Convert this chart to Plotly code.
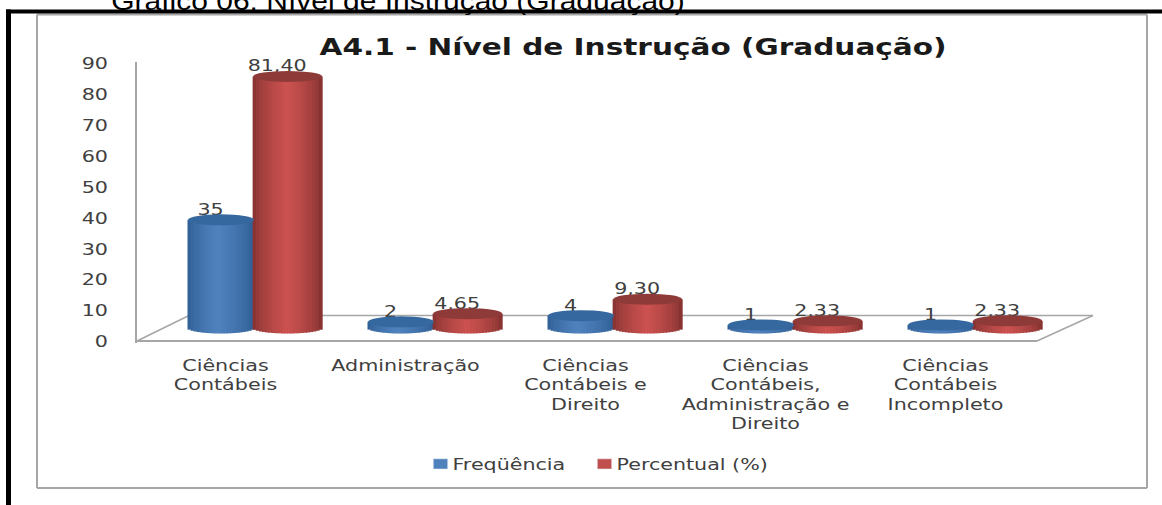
import math
import plotly.graph_objects as go

categories = ["Ciências<br>Contábeis", "Administração", "Ciências<br>Contábeis e<br>Direito",
              "Ciências<br>Contábeis,<br>Administração e<br>Direito", "Ciências<br>Contábeis<br>Incompleto"]
frequencia = [35, 2, 4, 1, 1]
percentual = [81.40, 4.65, 9.30, 2.33, 2.33]
y_ticks = [0, 10, 20, 30, 40, 50, 60, 70, 80, 90]

W, H = 1162, 505
FONT = "DejaVu Sans"
TXT = "#404040"
GRAY = "#a6a6a6"


def px(x):
    return x / W


def py(y):
    return 1 - y / H


PX_PER_X = 180.0
X_ZERO = 254.0  # pixel of category 0 centre
PX_PER_Y = 3.09
Y_LEFT, Y_RIGHT, Y_BOT, Y_TOP = 137, 1093, 343, 62
BASE_PX = 328
ELL_H = 5.5 / PX_PER_Y
N = 22


def mix(c1, c2, f):
    return "rgb(%d,%d,%d)" % tuple(round(a + (b - a) * f) for a, b in zip(c1, c2))


def cylinder(values, name, offset, width, dark, light, top, peak):
    xs, ys, bases, cols, widths = [], [], [], [], []
    for i, v in enumerate(values):
        for k in range(N):
            t = (k + 0.5) / N * 2 - 1
            b = -ELL_H * math.sqrt(1 - t * t)
            xs.append(i + offset + t * width / 2)
            ys.append(v - b)
            bases.append(b)
            widths.append(width / N * 1.35)
            f = max(0.0, 1 - abs(t - peak) / (1 - peak * (1 if t > peak else -1))) ** 0.6
            cols.append(mix(dark, light, f))
    bar = go.Bar(x=xs, y=ys, base=bases, width=widths, marker=dict(color=cols, line=dict(width=0)),
                 yaxis="y2", showlegend=False, hoverinfo="skip", name=name)
    ellipses = [dict(type="circle", xref="x", yref="y2", layer="above",
                     x0=i + offset - width / 2, x1=i + offset + width / 2,
                     y0=v - ELL_H, y1=v + ELL_H, fillcolor=top, line=dict(width=0))
                for i, v in enumerate(values)]
    return bar, ellipses


BLUE_OFF, RED_OFF = -0.183, 0.187
BLUE_W, RED_W = 0.367, 0.383
bar_b, ell_b = cylinder(frequencia, "Freqüência", BLUE_OFF, BLUE_W, (44, 90, 143), (80, 130, 190), "#35689e", -0.1)
bar_r, ell_r = cylinder(percentual, "Percentual (%)", RED_OFF, RED_W, (125, 47, 46), (204, 82, 80), "#8e3a38", 0.0)

LABEL_SHIFT = -10.5 / PX_PER_X
LABEL_UP = 9 / PX_PER_Y


def labels(values, offset, fmt):
    return go.Scatter(x=[i + offset + LABEL_SHIFT for i in range(len(values))],
                      y=[v + LABEL_UP for v in values], yaxis="y2", mode="text",
                      text=[fmt(v) for v in values], textposition="middle center", cliponaxis=False,
                      textfont=dict(family=FONT, size=16, color=TXT), showlegend=False, hoverinfo="skip")


fig = go.Figure()
fig.add_trace(go.Bar(x=[None], y=[None], name="Freqüência", marker=dict(color="#4f81bd")))
fig.add_trace(go.Bar(x=[None], y=[None], name="Percentual (%)", marker=dict(color="#c0504d")))
fig.add_trace(bar_b)
fig.add_trace(bar_r)
fig.add_trace(labels(frequencia, BLUE_OFF, lambda v: str(v)))
fig.add_trace(labels(percentual, RED_OFF, lambda v: f"{v:.2f}".replace(".", ",")))


def line(x0, y0, x1, y1, color=GRAY, width=2, layer="below"):
    return dict(type="line", xref="paper", yref="paper", x0=px(x0), y0=py(y0), x1=px(x1), y1=py(y1),
                line=dict(color=color, width=width), layer=layer)


shapes = [
    line(137, 341, 1037, 341), line(137, 341, 188, 316, width=1.5), line(188, 315.5, 1093, 315.5, width=1.5),
    line(1093, 315.5, 1037, 341, width=1.5),
    line(37, 14.5, 1147, 14.5), line(37, 14.5, 37, 488), line(37, 488, 1147, 488), line(1147, 14.5, 1147, 488),
    line(0 + 6, 11.5, W, 11.5, "#000000", 4), line(8.5, 9.5, 8.5, H, "#000000", 5),
] + ell_b + ell_r

LABEL_OFF = -28.5 / PX_PER_X
fig.update_layout(
    width=W, height=H, margin=dict(l=0, r=0, t=0, b=0, autoexpand=False), paper_bgcolor="white", plot_bgcolor="white",
    barmode="overlay", shapes=shapes,
    xaxis=dict(domain=[px(Y_LEFT), px(Y_RIGHT)],
               range=[(Y_LEFT - X_ZERO) / PX_PER_X, (Y_RIGHT - X_ZERO) / PX_PER_X],
               tickmode="array", tickvals=[i + LABEL_OFF for i in range(len(categories))], ticktext=categories,
               tickangle=0, showgrid=False, zeroline=False, showline=False, ticks="", ticklabelstandoff=12,
               tickfont=dict(family=FONT, size=15, color=TXT)),
    yaxis=dict(domain=[py(Y_BOT), py(Y_TOP)], range=[-1 / PX_PER_Y, (Y_BOT - 1 - Y_TOP) / PX_PER_Y],
               tickmode="array", tickvals=y_ticks, showgrid=False, zeroline=False, showline=True,
               linecolor=GRAY, linewidth=2, ticks="", ticklabelstandoff=24,
               tickfont=dict(family=FONT, size=15, color=TXT)),
    yaxis2=dict(domain=[py(Y_BOT), py(Y_TOP)], overlaying="y",
                range=[(BASE_PX - Y_BOT) / PX_PER_Y, (BASE_PX - Y_TOP) / PX_PER_Y],
                visible=False),
    legend=dict(orientation="h", x=px(584.5), xanchor="center", y=py(464), yanchor="middle",
                entrywidth=119, entrywidthmode="pixels",
                font=dict(family=FONT, size=16, color=TXT), itemclick=False, itemdoubleclick=False),
    annotations=[
        dict(text="<b>A4.1 - Nível de Instrução (Graduação)</b>", xref="paper", yref="paper", x=px(633), y=py(47),
             showarrow=False, xanchor="center", yanchor="middle", font=dict(family=FONT, size=23, color="#1a1a1a")),
        dict(text="Gráfico 06: Nível de Instrução (Graduação)", xref="paper", yref="paper", x=px(398), y=py(0.5),
             showarrow=False, xanchor="center", yanchor="middle", font=dict(family="Liberation Sans", size=25, color="#000000")),
    ],
)
POST = """
document.body.style.margin='0';
document.documentElement.style.overflow='hidden';
function stretch(sel,sx){document.querySelectorAll(sel).forEach(function(t){
  var x=parseFloat(t.getAttribute('x'))||0;
  var tr=t.getAttribute('transform')||'';
  t.setAttribute('transform',tr+' translate('+x+',0) scale('+sx+',1) translate('+(-x)+',0)');
});}
stretch('.xtick text',1.38);
stretch('.ytick text',1.38);
stretch('.textpoint text',1.29);
document.querySelectorAll('.legendtext').forEach(function(t){
  var x=parseFloat(t.getAttribute('x'))||0; t.setAttribute('x',x-8);
  t.querySelectorAll('tspan').forEach(function(s){if(s.hasAttribute('x'))s.setAttribute('x',x-8);});
});
stretch('.legendtext',1.29);
document.querySelectorAll('.legend .legendpoints path').forEach(function(p){
  p.setAttribute('transform',(p.getAttribute('transform')||'')+' scale(1.2,0.85)');
});
stretch(".annotation[data-index='0'] text",1.285);
stretch(".annotation[data-index='1'] text",1.2);
document.querySelectorAll('.legend .scrollbox, .legend .legendtoggle').forEach(function(e){e.removeAttribute('clip-path');e.style.clipPath='none';});
document.querySelectorAll('.legend').forEach(function(e){e.removeAttribute('clip-path');});
"""
fig.write_html("out.html", post_script=POST, config=dict(displayModeBar=False, responsive=False))
